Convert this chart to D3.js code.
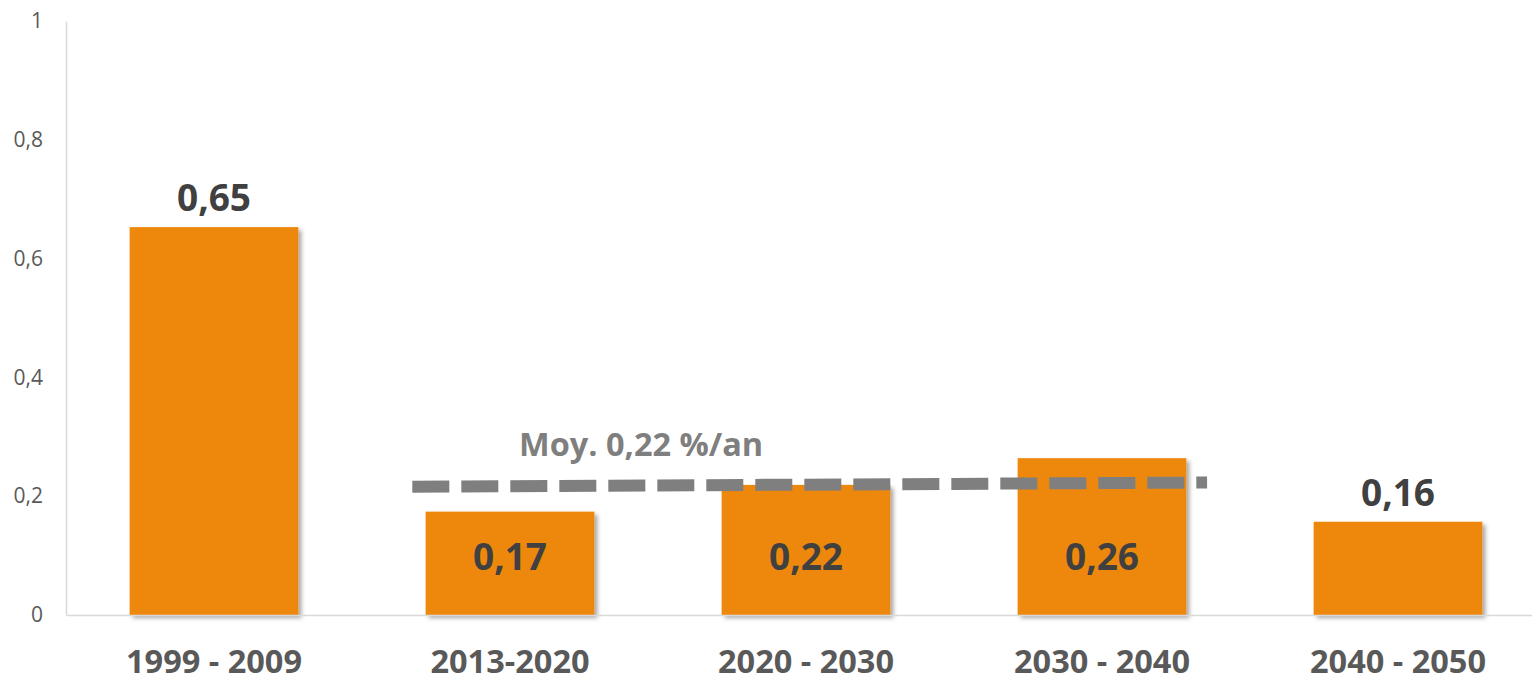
<!DOCTYPE html>
<html>
<head>
<meta charset="utf-8">
<script src="https://cdn.jsdelivr.net/npm/d3@7"></script>
<style>
  html, body { margin: 0; padding: 0; background: #ffffff; }
  svg { display: block; font-family: "Open Sans", "Noto Sans", sans-serif; }
</style>
</head>
<body>
<svg id="chart" width="1532" height="677"></svg>
<script>
// ---- data ----
const categories = ["1999 - 2009", "2013-2020", "2020 - 2030", "2030 - 2040", "2040 - 2050"];
const values = [0.653, 0.174, 0.219, 0.264, 0.157];
const labelInside = [false, true, true, true, false];
const yTicks = [0, 0.2, 0.4, 0.6, 0.8, 1];
const avgText = "Moy. 0,22 %/an";
const avgLine = [0.216, 0.223];        // dashed line value at its left and right ends
const avgLineSpan = [1.17, 3.855];     // in category-index units

// ---- layout ----
const W = 1532, H = 677;
const x0 = 66, step = 296, y0 = 615, y1 = 21;
const svg = d3.select("#chart");

const fmt = v => d3.format(".2f")(v).replace(".", ",");
const fmtTick = v => (v === 0 || v === 1) ? String(v) : String(v).replace(".", ",");

const x = d3.scaleBand().domain(categories)
  .range([x0, x0 + step * categories.length])
  .paddingInner(0.43).paddingOuter(0.215);
const xi = d3.scaleLinear().domain([0, categories.length]).range([x0, x0 + step * categories.length]);
const y = d3.scaleLinear().domain([0, 1]).range([y0, y1]);

// shadow filter
const defs = svg.append("defs");
const f = defs.append("filter").attr("id", "shadow")
  .attr("x", "-10%").attr("y", "-10%").attr("width", "130%").attr("height", "130%");
f.append("feDropShadow").attr("dx", 3).attr("dy", 3).attr("stdDeviation", 2.2)
  .attr("flood-color", "#000").attr("flood-opacity", 0.35);

// y axis
const yAxis = d3.axisLeft(y).tickValues(yTicks).tickFormat(fmtTick).tickSize(0).tickPadding(23);
const gy = svg.append("g").attr("transform", `translate(${x0},0)`).call(yAxis);
gy.select(".domain").attr("stroke", "#d9d9d9").attr("stroke-width", 1.5);
gy.selectAll("text").attr("fill", "#595959").attr("font-size", 21)
  .attr("font-family", "'Open Sans', sans-serif");

// bars
svg.append("g").selectAll("rect").data(values).join("rect")
  .attr("x", (d, i) => x(categories[i]))
  .attr("y", d => y(d))
  .attr("width", x.bandwidth())
  .attr("height", d => y(0) - y(d))
  .attr("fill", "#ED880A")
  .attr("filter", "url(#shadow)");

// x axis
const xAxis = d3.axisBottom(x).tickSize(0).tickPadding(35);
const gx = svg.append("g").attr("transform", `translate(0,${y0})`).call(xAxis);
gx.select(".domain").attr("stroke", "#d9d9d9").attr("stroke-width", 1.5);
gx.selectAll("text").attr("fill", "#595959").attr("font-size", 32.5).attr("font-weight", "bold")
  .attr("font-family", "'Open Sans', sans-serif").attr("dy", "0.71em");

// average dashed line
svg.append("line")
  .attr("x1", xi(avgLineSpan[0])).attr("x2", xi(avgLineSpan[1]))
  .attr("y1", y(avgLine[0])).attr("y2", y(avgLine[1]))
  .attr("stroke", "#7f7f7f").attr("stroke-width", 12)
  .attr("stroke-dasharray", "37 12");

svg.append("text")
  .attr("x", xi(1.943)).attr("y", y(0.2677))
  .attr("text-anchor", "middle")
  .attr("fill", "#7f7f7f").attr("font-size", 32.5).attr("font-weight", "bold")
  .text(avgText);

// value labels
svg.append("g").selectAll("text").data(values).join("text")
  .attr("x", (d, i) => x(categories[i]) + x.bandwidth() / 2)
  .attr("y", (d, i) => labelInside[i] ? y(0.075) : y(d) - 16)
  .attr("text-anchor", "middle")
  .attr("fill", "#404040").attr("font-size", 37).attr("font-weight", "bold")
  .text(d => fmt(d));
</script>
</body>
</html>
